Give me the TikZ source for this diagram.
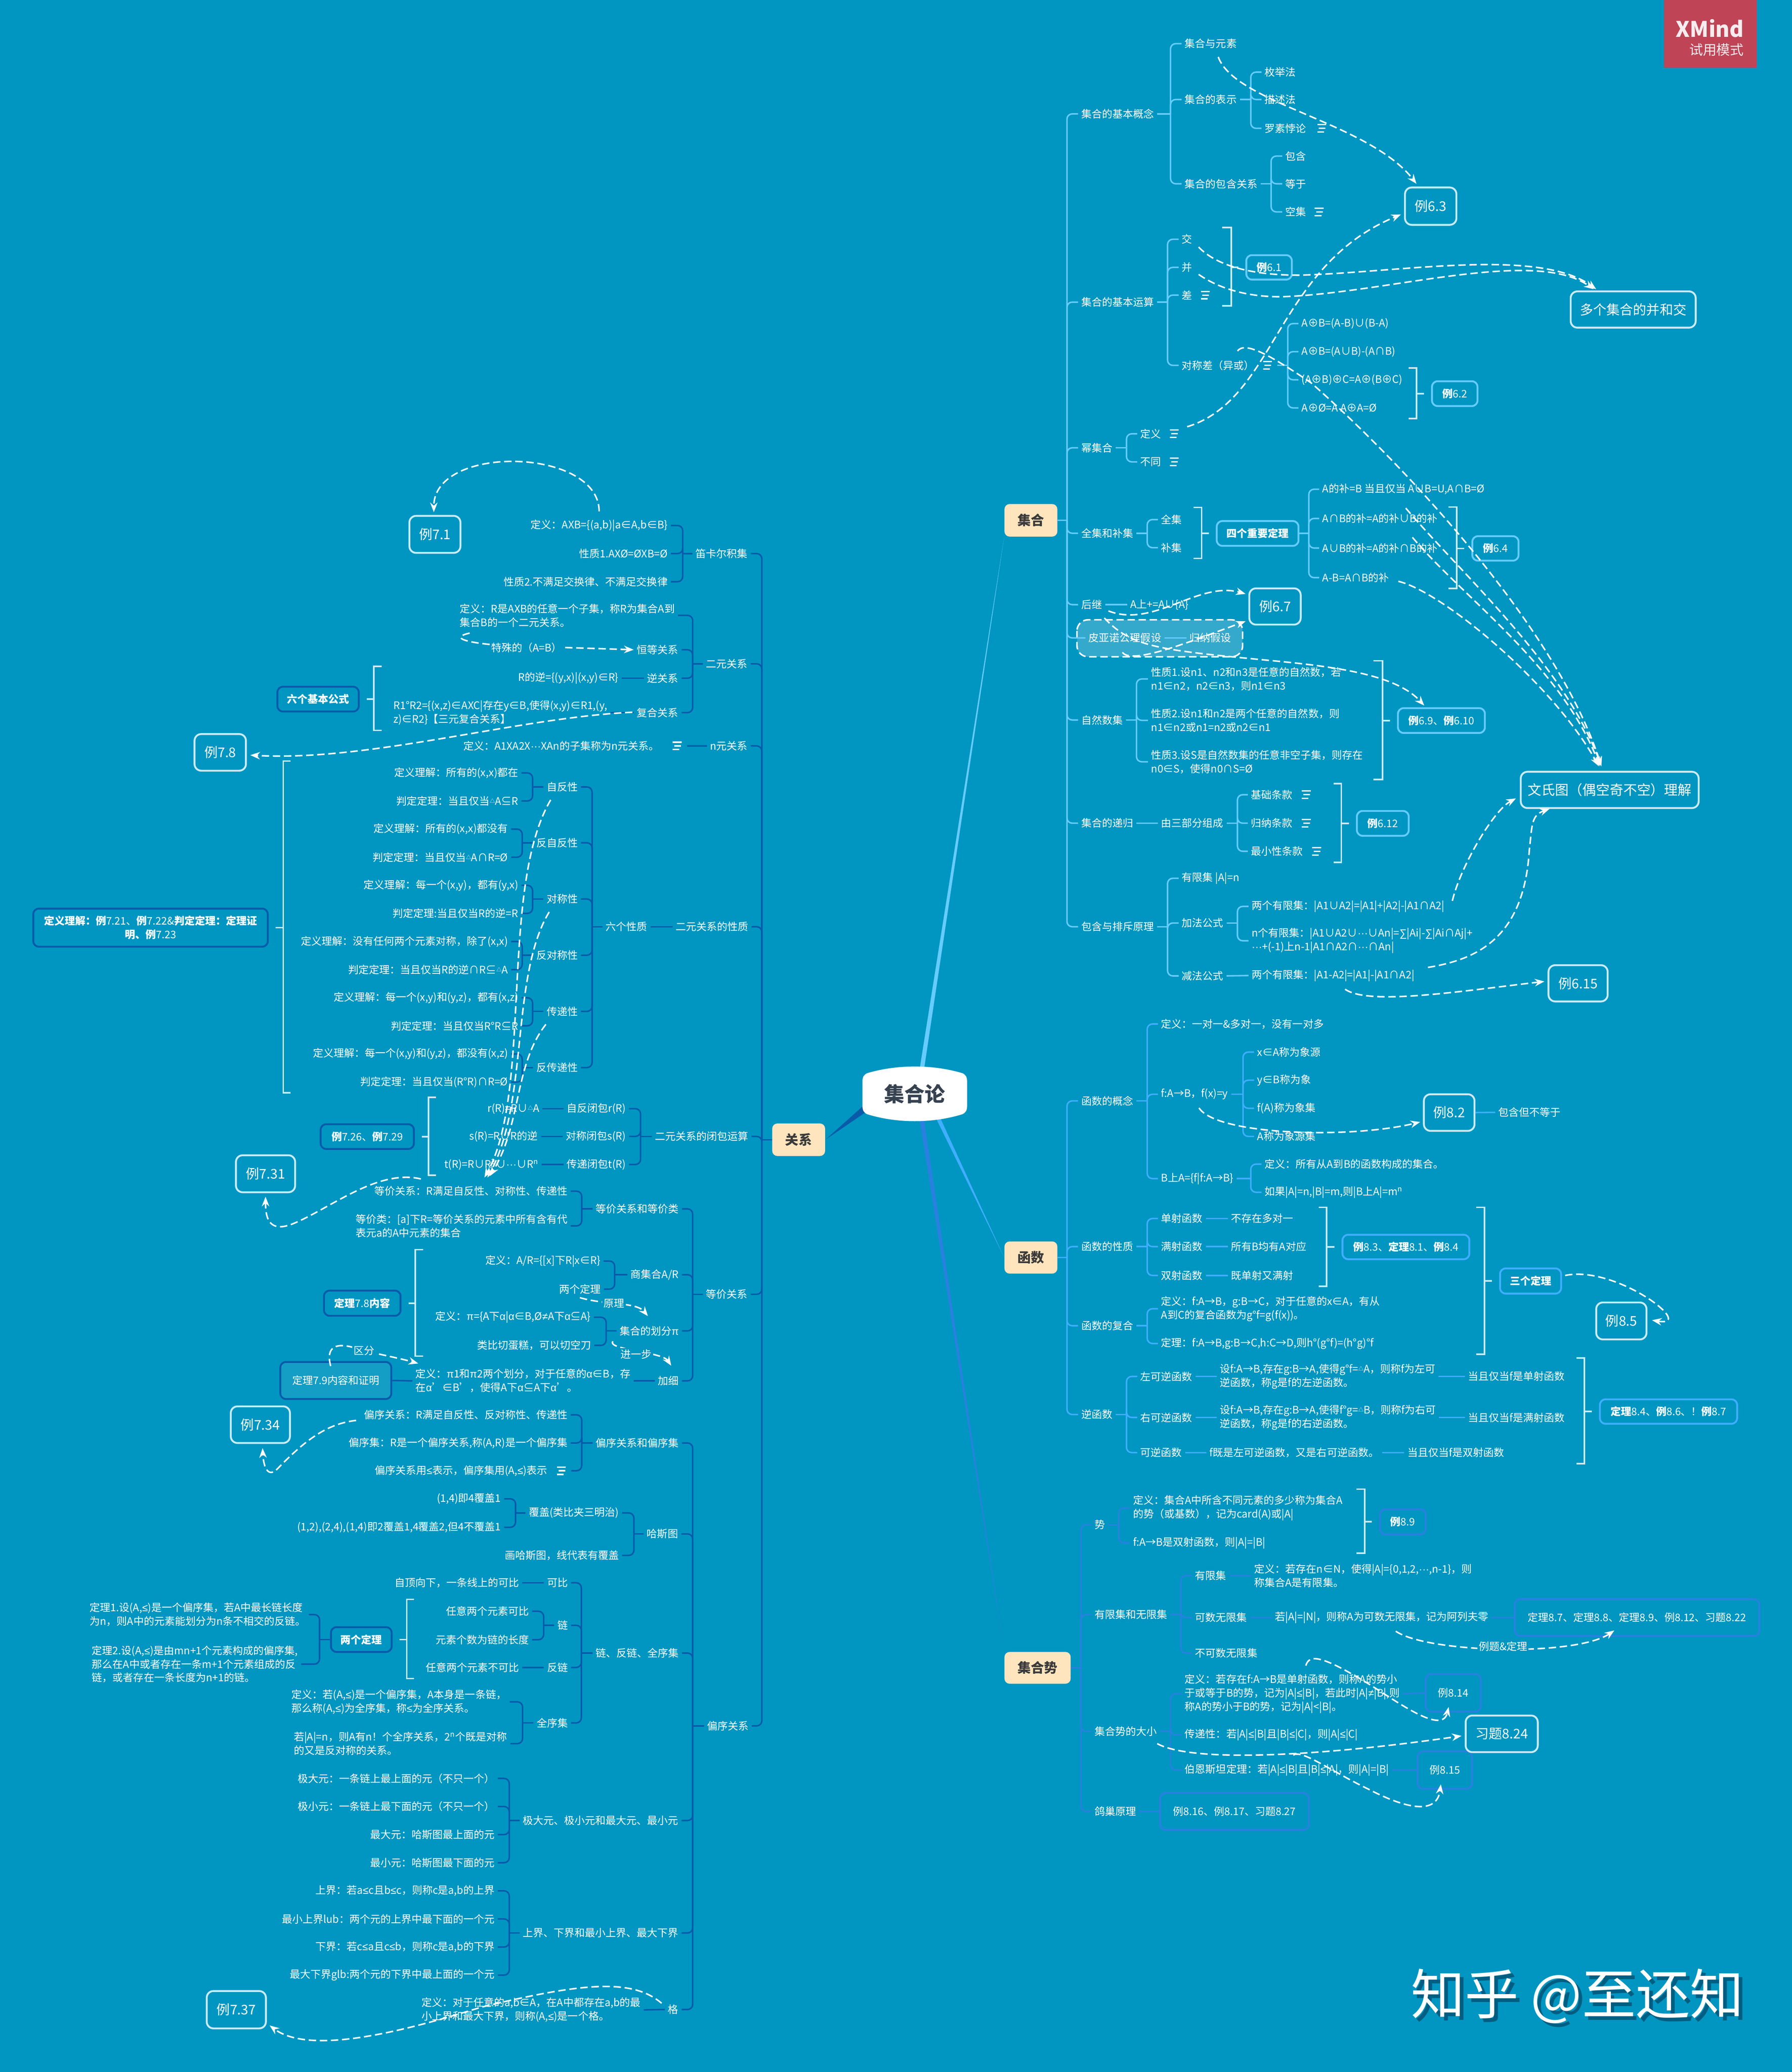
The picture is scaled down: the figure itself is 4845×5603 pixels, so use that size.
\documentclass[tikz,border=0pt]{standalone}
\usepackage{fontspec}
\setmainfont{Noto Sans CJK SC}
\newfontfamily\lat{Liberation Sans}
\usetikzlibrary{arrows.meta,calc}
\definecolor{bgc}{HTML}{0096C1}
\definecolor{cJ}{HTML}{66CCFF}
\definecolor{cF}{HTML}{40AEFF}
\definecolor{cS}{HTML}{2A80E0}
\definecolor{cG}{HTML}{0A5AAA}
\definecolor{brk}{HTML}{CBEBF6}
\definecolor{topicf}{HTML}{FFE5BE}
\definecolor{topict}{HTML}{3A3A3A}
\definecolor{mainT}{HTML}{374250}
\definecolor{badge}{HTML}{BE4456}
\definecolor{shade}{HTML}{005E82}
\definecolor{peano}{HTML}{35A9CC}
\newcommand\normalT{\fontsize{7.97}{10.5}\selectfont}
\newcommand\bigT{\fontsize{10.24}{13}\selectfont}
\newcommand\B[1]{{\bfseries #1}}
\newcommand\tri{\raisebox{0.35ex}{\fontsize{4}{4}\selectfont △}}
\newcommand\dd{{\lat ···}}
\newcommand\LE{{\lat ≤}}
\newcommand\NEQ{{\lat ≠}}
\newcommand\SUMM{{\lat ∑}}
\newcommand\ALF{{\lat α}}
\newcommand\PIE{{\lat π}}
\newcommand\nr[4]{\node[txt,anchor=west] (#1) at ({#2-8},#3) {#4};}
\newcommand\nl[4]{\node[txt,anchor=east] (#1) at ({#2+8},#3) {#4};}
\newcommand\bx[7]{\node[#6,minimum width={(#3-#2)*0.01cm},minimum height={(#5-#4)*0.01cm},inner sep=0pt] (#1) at ({(#2+#3)/2},{(#4+#5)/2}) {#7};}
\newcommand\bR[3]{\coordinate (T) at (#2,0);\draw[ln] (#1.east) -- (#1.east -| T);
  \foreach \c in {#3}{\draw[ln,rounded corners=0.14cm] (#1.east -| T) -- (\c.west -| T) -- (\c.west);}}
\newcommand\bL[3]{\coordinate (T) at (#2,0);\draw[ln] (#1.west) -- (#1.west -| T);
  \foreach \c in {#3}{\draw[ln,rounded corners=0.14cm] (#1.west -| T) -- (\c.east -| T) -- (\c.east);}}
\newcommand\lR[2]{\draw[ln] (#1.east) -- (#2.west);}
\newcommand\lL[2]{\draw[ln] (#1.west) -- (#2.east);}
\newcommand\kR[5]{\draw[brkl] (#4,#2) -- (#1,#2) -- (#1,#3) -- (#4,#3);\coordinate (K) at (#1,0);\draw[brkl,shorten >=0.19cm] (#5.west -| K) -- (#5.west);}
\newcommand\kL[5]{\draw[brkl] (#4,#2) -- (#1,#2) -- (#1,#3) -- (#4,#3);\coordinate (K) at (#1,0);\draw[brkl,shorten >=0.19cm] (#5.east -| K) -- (#5.east);}
\newcommand\icon[3]{\node[minimum width=0.52cm,minimum height=0.3cm,inner sep=0pt] (#1) at (#2,#3) {};
  \draw[iconl] ({#2-12},{#3-10}) -- ({#2+12},{#3-10});\draw[iconl] ({#2-8},{#3}) -- ({#2+10},{#3});\draw[iconl] ({#2-12},{#3+10}) -- ({#2+6},{#3+10});}
\newcommand\relc[4]{\coordinate (#1a) at (#2);\coordinate (#1b) at (#4);\draw[rel] (#1a) #3 (#1b);}
\tikzset{
  txt/.style={font=\normalT,text=white,inner ysep=0pt,inner xsep=0.08cm,align=left},
  ln/.style={line width=0.04cm,draw=cJ},
  brkl/.style={line width=0.04cm,draw=brk},
  iconl/.style={line width=0.035cm,draw=white},
  rel/.style={line width=0.04cm,draw=white,dash pattern=on 0.2cm off 0.1cm,-{Stealth[length=0.26cm,width=0.2cm]}},
  relp/.style={line width=0.04cm,draw=white,dash pattern=on 0.2cm off 0.1cm},
  bigb/.style={draw=brk,line width=0.05cm,rounded corners=0.18cm,font=\bigT,text=white,align=center},
  smallb/.style={line width=0.05cm,rounded corners=0.15cm,font=\normalT,text=white,align=center},
  topic/.style={fill=topicf,rounded corners=0.14cm,font=\bigT\bfseries,text=topict},
  lab/.style={font=\normalT,text=white,fill=bgc,inner sep=1pt}
}
\begin{document}
\begin{tikzpicture}[x=0.01cm,y=-0.01cm]
\useasboundingbox (0,0) rectangle (4845,5603);
\fill[bgc] (0,0) rectangle (4845,5603);
% ---- central topic and its tapered branches
\bx{ji}{2716}{2859}{1363}{1451}{topic}{集合}
\bx{fn}{2716}{2859}{3357}{3444}{topic}{函数}
\bx{shi}{2716}{2895}{4467}{4553}{topic}{集合势}
\bx{ge}{2088}{2231}{3038}{3126}{topic}{关系}
\coordinate (t1a) at (2486,2895);\coordinate (t1b) at (2498,2895);
\coordinate (t2a) at (2529,3020);\coordinate (t2b) at (2541,3020);
\coordinate (t3a) at (2486,3025);\coordinate (t3b) at (2498,3025);
\coordinate (t4a) at (2340,2985);\coordinate (t4b) at (2340,3008);
\fill[cJ] (t1a) -- (ji.south west) -- (t1b) -- cycle;
\fill[cF] (t2a) -- (fn.west) -- (t2b) -- cycle;
\fill[cS] (t3a) -- (shi.north west) -- (t3b) -- cycle;
\fill[cG] (t4a) -- (ge.east) -- (t4b) -- cycle;
\fill[white] (2332,2925) .. controls (2332,2912) and (2336,2906) .. (2345,2902) .. controls (2425,2878) and (2522,2878) .. (2602,2902) .. controls (2611,2906) and (2615,2912) .. (2615,2925) -- (2615,2990) .. controls (2615,3003) and (2611,3009) .. (2602,3013) .. controls (2522,3038) and (2425,3038) .. (2345,3013) .. controls (2336,3009) and (2332,3003) .. (2332,2990) -- cycle;
\node[font=\fontsize{15.6}{18}\selectfont\bfseries,text=mainT,minimum width=2.83cm,minimum height=1.48cm,inner sep=0pt] (main) at (2473,2958) {集合论};
% ---- 集合
\begin{scope}[ln/.style={line width=0.04cm,draw=cJ},smallb/.append style={draw=cJ}]
\nr{a1}{2923}{308}{集合的基本概念}
\nr{a11}{3203}{118}{集合与元素}
\nr{a12}{3203}{269}{集合的表示}
\nr{a13}{3203}{497}{集合的包含关系}
\nr{a121}{3419}{195}{枚举法}
\nr{a122}{3419}{269}{描述法}
\nr{a123}{3419}{347}{罗素悖论}
\icon{ia123}{3574}{347}
\nr{a131}{3475}{422}{包含}
\nr{a132}{3475}{497}{等于}
\nr{a133}{3475}{573}{空集}
\icon{ia133}{3567}{573}
\bR{a1}{3165}{a11,a12,a13}
\bR{a12}{3382}{a121,a122,a123}
\bR{a13}{3437}{a131,a132,a133}
\nr{a2}{2923}{817}{集合的基本运算}
\nr{a21}{3195}{647}{交}
\nr{a22}{3195}{723}{并}
\nr{a23}{3195}{798}{差}
\icon{ia23}{3259}{798}
\nr{a24}{3195}{988}{对称差（异或）}
\icon{ia24}{3427}{988}
\nr{a241}{3519}{875}{A⊕B=(A-B)∪(B-A)}
\nr{a242}{3519}{951}{A⊕B=(A∪B)-(A∩B)}
\nr{a243}{3519}{1027}{(A⊕B)⊕C=A⊕(B⊕C)}
\nr{a244}{3519}{1103}{A⊕Ø=A  A⊕A=Ø}
\bR{a2}{3157}{a21,a22,a23,a24}
\bR{ia24}{3482}{a241,a242,a243,a244}
\nr{a3}{2923}{1211}{幂集合}
\nr{a31}{3083}{1173}{定义}
\icon{ia31}{3175}{1173}
\nr{a32}{3083}{1249}{不同}
\icon{ia32}{3175}{1249}
\bR{a3}{3046}{a31,a32}
\nr{a4}{2923}{1442}{全集和补集}
\nr{a41}{3139}{1405}{全集}
\nr{a42}{3139}{1481}{补集}
\bR{a4}{3102}{a41,a42}
\bx{b4}{3290}{3511}{1409}{1476}{smallb}{\B{四个重要定理}}
\nr{a431}{3575}{1323}{A的补=B 当且仅当 A∪B=U,A∩B=Ø}
\nr{a432}{3575}{1402}{A∩B的补=A的补∪B的补}
\nr{a433}{3575}{1482}{A∪B的补=A的补∩B的补}
\nr{a434}{3575}{1562}{A-B=A∩B的补}
\bR{b4}{3539}{a431,a432,a433,a434}
\nr{a5}{2923}{1635}{后继}
\nr{a51}{3056}{1635}{A上+=A∪\{A\}}
\lR{a5}{a51}
\draw[draw=white,fill=peano,line width=0.04cm,dash pattern=on 0.2cm off 0.1cm,rounded corners=0.3cm] (2912,1676) rectangle (3360,1776);
\nr{a6}{2943}{1725}{皮亚诺公理假设}
\nr{a61}{3216}{1725}{归纳假设}
\lR{a6}{a61}
\nr{a7}{2923}{1947}{自然数集}
\nr{a71}{3112}{1836}{性质1.设n1、n2和n3是任意的自然数，若\\n1∈n2，n2∈n3，则n1∈n3}
\nr{a72}{3112}{1948}{性质2.设n1和n2是两个任意的自然数，则\\n1∈n2或n1=n2或n2∈n1}
\nr{a73}{3112}{2060}{性质3.设S是自然数集的任意非空子集，则存在\\n0∈S，使得n0∩S=Ø}
\bR{a7}{3073}{a71,a72,a73}
\nr{a8}{2923}{2226}{集合的递归}
\nr{a81}{3139}{2226}{由三部分组成}
\lR{a8}{a81}
\nr{a811}{3382}{2149}{基础条款}
\icon{ia811}{3532}{2149}
\nr{a812}{3382}{2226}{归纳条款}
\icon{ia812}{3532}{2226}
\nr{a813}{3382}{2302}{最小性条款}
\icon{ia813}{3560}{2302}
\bR{a81}{3346}{a811,a812,a813}
\nr{a9}{2923}{2506}{包含与排斥原理}
\nr{a91}{3195}{2375}{有限集 |A|=n}
\nr{a92}{3195}{2496}{加法公式}
\nr{a93}{3195}{2639}{减法公式}
\bR{a9}{3157}{a91,a92,a93}
\nr{a921}{3384}{2451}{两个有限集：|A1∪A2|=|A1|+|A2|-|A1∩A2|}
\nr{a922}{3384}{2544}{n个有限集：|A1∪A2∪\dd∪An|=\SUMM|Ai|-\SUMM|Ai∩Aj|+\\\dd+(-1)上n-1|A1∩A2∩\dd∩An|}
\bR{a92}{3346}{a921,a922}
\nr{a931}{3384}{2638}{两个有限集：|A1-A2|=|A1|-|A1∩A2|}
\lR{a93}{a931}
\bR{ji}{2885}{a1,a2,a3,a4,a5,a6,a7,a8,a9}
\bx{b61}{3370}{3493}{690}{756}{smallb}{\B{例}6.1}
\bx{b62}{3872}{3995}{1031}{1098}{smallb}{\B{例}6.2}
\bx{b64}{3981}{4106}{1450}{1516}{smallb}{\B{例}6.4}
\bx{b69}{3780}{4015}{1915}{1982}{smallb}{\B{例}6.9、\B{例}6.10}
\bx{b612}{3669}{3809}{2193}{2260}{smallb}{\B{例}6.12}
\kR{3329}{615}{827}{3305}{b61}
\kR{3830}{995}{1132}{3809}{b62}
\kR{3249}{1372}{1510}{3227}{b4}
\kR{3939}{1371}{1591}{3917}{b64}
\kR{3738}{1787}{2108}{3714}{b69}
\kR{3627}{2119}{2332}{3606}{b612}
\bx{ex63}{3799}{3938}{507}{608}{bigb}{例6.3}
\bx{exm}{4247}{4585}{788}{886}{bigb}{多个集合的并和交}
\bx{ex67}{3378}{3517}{1591}{1689}{bigb}{例6.7}
\bx{exv}{4112}{4593}{2087}{2185}{bigb,font=\fontsize{10.5}{13}\selectfont}{文氏图（偶空奇不空）理解}
\bx{ex615}{4187}{4347}{2610}{2708}{bigb}{例6.15}
\end{scope}
% ---- 函数
\begin{scope}[ln/.style={line width=0.04cm,draw=cF},smallb/.append style={draw=cF}]
\nr{f1}{2923}{2977}{函数的概念}
\nr{f11}{3139}{2769}{定义：一对一\&多对一，没有一对多}
\nr{f12}{3139}{2959}{f:A→B，f(x)=y}
\nr{f13}{3139}{3187}{B上A=\{f|f:A→B\}}
\bR{f1}{3102}{f11,f12,f13}
\nr{f121}{3399}{2845}{x∈A称为象源}
\nr{f122}{3399}{2921}{y∈B称为象}
\nr{f123}{3399}{2997}{f(A)称为象集}
\nr{f124}{3399}{3073}{A称为象源集}
\bR{f12}{3361}{f121,f122,f123,f124}
\nr{f131}{3419}{3148}{定义：所有从A到B的函数构成的集合。}
\nr{f132}{3419}{3224}{如果|A|=n,|B|=m,则|B上A|=m\textsuperscript{n}}
\bR{f13}{3382}{f131,f132}
\bx{ex82}{3850}{3987}{2959}{3058}{bigb}{例8.2}
\nr{f83}{4051}{3008}{包含但不等于}
\lR{ex82}{f83}
\nr{f2}{2923}{3371}{函数的性质}
\nr{f21}{3139}{3295}{单射函数}
\nr{f22}{3139}{3371}{满射函数}
\nr{f23}{3139}{3449}{双射函数}
\bR{f2}{3102}{f21,f22,f23}
\nr{f211}{3328}{3295}{不存在多对一}
\nr{f221}{3328}{3371}{所有B均有A对应}
\nr{f231}{3328}{3449}{既单射又满射}
\lR{f21}{f211}\lR{f22}{f221}\lR{f23}{f231}
\nr{f3}{2923}{3585}{函数的复合}
\nr{f31}{3139}{3539}{定义：f:A→B，g:B→C，对于任意的x∈A，有从\\A到C的复合函数为g°f=g(f(x))。}
\nr{f32}{3139}{3633}{定理：f:A→B,g:B→C,h:C→D,则h°(g°f)=(h°g)°f}
\bR{f3}{3102}{f31,f32}
\nr{f4}{2923}{3825}{逆函数}
\nr{f41}{3083}{3722}{左可逆函数}
\nr{f42}{3083}{3833}{右可逆函数}
\nr{f43}{3083}{3928}{可逆函数}
\bR{f4}{3046}{f41,f42,f43}
\nr{f411}{3298}{3722}{设f:A→B,存在g:B→A,使得g°f=\tri A，则称f为左可\\逆函数，称g是f的左逆函数。}
\nr{f421}{3298}{3833}{设f:A→B,存在g:B→A,使得f°g=\tri B，则称f为右可\\逆函数，称g是f的右逆函数。}
\nr{f431}{3270}{3928}{f既是左可逆函数，又是右可逆函数。}
\nr{f412}{3969}{3722}{当且仅当f是单射函数}
\nr{f422}{3969}{3833}{当且仅当f是满射函数}
\nr{f432}{3805}{3928}{当且仅当f是双射函数}
\lR{f41}{f411}\lR{f42}{f421}\lR{f43}{f431}\lR{f411}{f412}\lR{f421}{f422}\lR{f431}{f432}
\bR{fn}{2885}{f1,f2,f3,f4}
\bx{b83}{3630}{3973}{3339}{3405}{smallb}{\B{例}8.3、\B{定理}8.1、\B{例}8.4}
\bx{b3d}{4056}{4221}{3430}{3498}{smallb}{\B{三个定理}}
\bx{b84}{4326}{4697}{3784}{3850}{smallb}{\B{定理}8.4、\B{例}8.6、！\B{例}8.7}
\kR{3587}{3265}{3478}{3566}{b83}
\kR{4014}{3265}{3662}{3991}{b3d}
\kR{4284}{3672}{3958}{4263}{b84}
\bx{ex85}{4316}{4452}{3522}{3622}{bigb}{例8.5}
\end{scope}
% ---- 集合势
\begin{scope}[ln/.style={line width=0.04cm,draw=cS},smallb/.append style={draw=cS}]
\nr{s1}{2959}{4123}{势}
\nr{s11}{3063}{4078}{定义：集合A中所含不同元素的多少称为集合A\\的势（或基数），记为card(A)或|A|}
\nr{s12}{3063}{4172}{f:A→B是双射函数，则|A|=|B|}
\bR{s1}{3025}{s11,s12}
\bx{b89}{3731}{3855}{4081}{4149}{smallb}{\B{例}8.9}
\kR{3690}{4027}{4200}{3668}{b89}
\nr{s2}{2959}{4366}{有限集和无限集}
\nr{s21}{3231}{4260}{有限集}
\nr{s22}{3231}{4374}{可数无限集}
\nr{s23}{3231}{4470}{不可数无限集}
\bR{s2}{3193}{s21,s22,s23}
\nr{s211}{3391}{4261}{定义：若存在n∈N，使得|A|=\{0,1,2,\dd,n-1\}，则\\称集合A是有限集。}
\nr{s221}{3447}{4374}{若|A|=|N|，则称A为可数无限集，记为阿列夫零}
\bx{b222}{4096}{4757}{4324}{4424}{smallb}{定理8.7、定理8.8、定理8.9、例8.12、习题8.22}
\lR{s21}{s211}\lR{s22}{s221}\lR{s221}{b222}
\nr{s3}{2959}{4682}{集合势的大小}
\nr{s31}{3203}{4580}{定义：若存在f:A→B是单射函数，则称A的势小\\于或等于B的势，记为|A|\LE{}|B|，若此时|A|\NEQ{}|B|,则\\称A的势小于B的势，记为|A|<|B|。}
\nr{s32}{3203}{4691}{传递性：若|A|\LE{}|B|且|B|\LE{}|C|，则|A|\LE{}|C|}
\nr{s33}{3203}{4786}{伯恩斯坦定理：若|A|\LE{}|B|且|B|\LE{}|A|，则|A|=|B|}
\bR{s3}{3165}{s31,s32,s33}
\bx{b814}{3855}{4004}{4527}{4628}{smallb}{例8.14}
\bx{b815}{3833}{3980}{4736}{4837}{smallb}{例8.15}
\lR{s31}{b814}\lR{s33}{b815}
\bx{ex824}{3963}{4158}{4639}{4738}{bigb}{习题8.24}
\nr{s4}{2959}{4898}{鸽巢原理}
\bx{b816}{3137}{3539}{4848}{4948}{smallb}{例8.16、例8.17、习题8.27}
\lR{s4}{b816}
\bR{shi}{2923}{s1,s2,s3,s4}
\end{scope}
% ---- 关系
\begin{scope}[ln/.style={line width=0.04cm,draw=cG},smallb/.append style={draw=cG}]
\nl{g1}{2022}{1497}{笛卡尔积集}
\nl{g11}{1806}{1421}{定义：AXB=\{(a,b)|a∈A,b∈B\}}
\nl{g12}{1806}{1497}{性质1.AXØ=ØXB=Ø}
\nl{g13}{1806}{1573}{性质2.不满足交换律、不满足交换律}
\bL{g1}{1846}{g11,g12,g13}
\nl{g2}{2022}{1795}{二元关系}
\nr{g21}{1243}{1664}{定义：R是AXB的任意一个子集，称R为集合A到\\集合B的一个二元关系。}
\nl{g22}{1835}{1757}{恒等关系}
\nl{g23}{1835}{1834}{逆关系}
\nl{g24}{1835}{1927}{复合关系}
\bL{g2}{1873}{g21,g22,g23,g24}
\nl{g231}{1673}{1834}{R的逆=\{(y,x)|(x,y)∈R\}}
\lL{g23}{g231}
\nr{g241}{1063}{1927}{R1°R2=\{(x,z)∈AXC|存在y∈B,使得(x,y)∈R1,(y,\\z)∈R2\}【三元复合关系】}
\lL{g24}{g241}
\bx{b6f}{750}{970}{1857}{1924}{smallb}{\B{六个基本公式}}
\kL{1011}{1802}{1975}{1032}{b6f}
\nl{g3}{2022}{2017}{n元关系}
\icon{ig3}{1831}{2017}
\nl{g31}{1783}{2017}{定义：A1XA2X\dd XAn的子集称为n元关系。}
\lL{g3}{ig3}
\nl{g4}{2024}{2506}{二元关系的性质}
\nl{g41}{1751}{2506}{六个性质}
\lL{g4}{g41}
\nl{g411}{1563}{2128}{自反性}
\nl{g412}{1563}{2279}{反自反性}
\nl{g413}{1563}{2431}{对称性}
\nl{g414}{1563}{2583}{反对称性}
\nl{g415}{1563}{2735}{传递性}
\nl{g416}{1563}{2887}{反传递性}
\bL{g41}{1601}{g411,g412,g413,g414,g415,g416}
\nl{p1}{1402}{2090}{定义理解：所有的(x,x)都在}
\nl{p2}{1402}{2166}{判定定理：当且仅当\tri A⊆R}
\bL{g411}{1440}{p1,p2}
\nl{p3}{1374}{2242}{定义理解：所有的(x,x)都没有}
\nl{p4}{1374}{2318}{判定定理：当且仅当\tri A∩R=Ø}
\bL{g412}{1412}{p3,p4}
\nl{p5}{1402}{2394}{定义理解：每一个(x,y)，都有(y,x)}
\nl{p6}{1402}{2470}{判定定理:当且仅当R的逆=R}
\bL{g413}{1440}{p5,p6}
\nl{p7}{1374}{2546}{定义理解：没有任何两个元素对称，除了(x,x)}
\nl{p8}{1374}{2622}{判定定理：当且仅当R的逆∩R⊆\tri A}
\bL{g414}{1412}{p7,p8}
\nl{p9}{1402}{2698}{定义理解：每一个(x,y)和(y,z)，都有(x,z)}
\nl{p10}{1402}{2774}{判定定理：当且仅当R°R⊆R}
\bL{g415}{1440}{p9,p10}
\nl{p11}{1374}{2850}{定义理解：每一个(x,y)和(y,z)，都没有(x,z)}
\nl{p12}{1374}{2926}{判定定理：当且仅当(R°R)∩R=Ø}
\bL{g416}{1412}{p11,p12}
\bx{b721}{90}{724}{2457}{2560}{smallb}{\B{定义理解：例}7.21、\B{例}7.22\&\B{判定定理：定理证}\\\B{明、例}7.23}
\kL{766}{2058}{2955}{786}{b721}
\nl{g5}{2024}{3073}{二元关系的闭包运算}
\nl{g51}{1693}{2998}{自反闭包r(R)}
\nl{g52}{1693}{3073}{对称闭包s(R)}
\nl{g53}{1693}{3149}{传递闭包t(R)}
\bL{g5}{1732}{g51,g52,g53}
\nl{g511}{1459}{2998}{r(R)=R∪\tri A}
\nl{g521}{1455}{3073}{s(R)=R∪R的逆}
\nl{g531}{1457}{3149}{t(R)=R∪R\textsuperscript{2}∪\dd∪R\textsuperscript{n}}
\lL{g51}{g511}\lL{g52}{g521}\lL{g53}{g531}
\bx{b726}{867}{1119}{3040}{3107}{smallb}{\B{例}7.26、\B{例}7.29}
\kL{1159}{2967}{3178}{1179}{b726}
\nl{g6}{2022}{3500}{等价关系}
\nl{g61}{1836}{3269}{等价关系和等价类}
\nl{g62}{1836}{3447}{商集合A/R}
\nl{g63}{1836}{3599}{集合的划分\PIE}
\nl{g64}{1836}{3734}{加细}
\bL{g6}{1873}{g61,g62,g63,g64}
\nl{g611}{1535}{3221}{等价关系：R满足自反性、对称性、传递性}
\nr{g612}{961}{3315}{等价类：[a]下R=等价关系的元素中所有含有代\\表元a的A中元素的集合}
\bL{g61}{1573}{g611,g612}
\nl{g621}{1624}{3410}{定义：A/R=\{[x]下R|x∈R\}}
\nl{g622}{1625}{3486}{两个定理}
\bL{g62}{1662}{g621,g622}
\nl{g631}{1598}{3562}{定义：\PIE=\{A下\ALF|\ALF∈B,Ø\NEQ{}A下\ALF⊆A\}}
\nl{g632}{1599}{3638}{类比切蛋糕，可以切空刀}
\bL{g63}{1639}{g631,g632}
\nr{g641}{1123}{3734}{定义：\PIE1和\PIE2两个划分，对于任意的\ALF∈B，存\\在\ALF'∈B'，使得A下\ALF⊆A下\ALF'。}
\lL{g64}{g641}
\bx{b78}{876}{1083}{3490}{3558}{smallb}{\B{定理}7.8\B{内容}}
\kL{1123}{3379}{3667}{1144}{b78}
\bx{b79}{758}{1058}{3683}{3783}{smallb,fill=bgc!92!white}{定理7.9内容和证明}
\lL{g641}{b79}
\nl{g7}{2025}{4667}{偏序关系}
\nl{g71}{1836}{3902}{偏序关系和偏序集}
\nl{g72}{1834}{4148}{哈斯图}
\nl{g73}{1836}{4470}{链、反链、全序集}
\nl{g74}{1835}{4923}{极大元、极小元和最大元、最小元}
\nl{g75}{1835}{5227}{上界、下界和最小上界、最大下界}
\nl{g76}{1835}{5434}{格}
\bL{g7}{1873}{g71,g72,g73,g74,g75,g76}
\nl{g711}{1535}{3826}{偏序关系：R满足自反性、反对称性、传递性}
\nl{g712}{1535}{3902}{偏序集：R是一个偏序关系,称(A,R)是一个偏序集}
\nl{g713}{1481}{3977}{偏序关系用\LE{}表示，偏序集用(A,\LE{})表示}
\icon{ig713}{1518}{3977}
\bL{g71}{1573}{g711,g712,ig713}
\nl{g721}{1674}{4091}{覆盖(类比夹三明治)}
\nl{g722}{1674}{4206}{画哈斯图，线代表有覆盖}
\bL{g72}{1714}{g721,g722}
\nl{g7211}{1355}{4053}{(1,4)即4覆盖1}
\nl{g7212}{1355}{4130}{(1,2),(2,4),(1,4)即2覆盖1,4覆盖2,但4不覆盖1}
\bL{g721}{1394}{g7211,g7212}
\nl{g731}{1536}{4280}{可比}
\nl{g732}{1536}{4395}{链}
\nl{g733}{1536}{4509}{反链}
\nl{g734}{1536}{4659}{全序集}
\bL{g73}{1572}{g731,g732,g733,g734}
\nl{g7311}{1404}{4280}{自顶向下，一条线上的可比}
\lL{g731}{g7311}
\nl{g7321}{1431}{4357}{任意两个元素可比}
\nl{g7322}{1431}{4434}{元素个数为链的长度}
\bL{g732}{1470}{g7321,g7322}
\nl{g7331}{1404}{4509}{任意两个元素不可比}
\lL{g733}{g7331}
\nr{g7341}{788}{4602}{定义：若(A,\LE{})是一个偏序集，A本身是一条链，\\那么称(A,\LE{})为全序集，称\LE{}为全序关系。}
\nr{g7342}{794}{4715}{若|A|=n，则A有n！个全序关系，2\textsuperscript{n}个既是对称\\的又是反对称的关系。}
\bL{g734}{1413}{g7341,g7342}
\bx{b2d}{895}{1059}{4400}{4467}{smallb}{\B{两个定理}}
\kL{1100}{4325}{4539}{1119}{b2d}
\nr{t1}{242}{4366}{定理1.设(A,\LE{})是一个偏序集，若A中最长链长度\\为n，则A中的元素能划分为n条不相交的反链。}
\nr{t2}{248}{4500}{定理2.设(A,\LE{})是由mn+1个元素构成的偏序集,\\那么在A中或者存在一条m+1个元素组成的反\\链，或者存在一条长度为n+1的链。}
\bL{b2d}{864}{t1,t2}
\nl{m1}{1338}{4809}{极大元：一条链上最上面的元（不只一个）}
\nl{m2}{1338}{4885}{极小元：一条链上最下面的元（不只一个）}
\nl{m3}{1338}{4961}{最大元：哈斯图最上面的元}
\nl{m4}{1338}{5037}{最小元：哈斯图最下面的元}
\bL{g74}{1377}{m1,m2,m3,m4}
\nl{u1}{1338}{5113}{上界：若a\LE{}c且b\LE{}c，则称c是a,b的上界}
\nl{u2}{1338}{5189}{最小上界lub：两个元的上界中最下面的一个元}
\nl{u3}{1338}{5265}{下界：若c\LE{}a且c\LE{}b，则称c是a,b的下界}
\nl{u4}{1338}{5341}{最大下界glb:两个元的下界中最上面的一个元}
\bL{g75}{1377}{u1,u2,u3,u4}
\nr{g761}{1139}{5435}{定义：对于任意的a,b∈A，在A中都存在a,b的最\\小上界和最大下界，则称(A,\LE{})是一个格。}
\lL{g76}{g761}
\bL{ge}{2060}{g1,g2,g3,g4,g5,g6,g7}
\bx{ex71}{1107}{1245}{1395}{1495}{bigb}{例7.1}
\bx{ex78}{526}{665}{1985}{2084}{bigb}{例7.8}
\bx{ex731}{638}{798}{3124}{3224}{bigb}{例7.31}
\bx{ex734}{624}{784}{3803}{3902}{bigb}{例7.34}
\bx{ex737}{559}{719}{5384}{5485}{bigb}{例7.37}
\end{scope}
% ---- dashed relationships
\relc{d1}{3294,154}{.. controls (3340,280) and (3700,330) ..}{3830,497}
\relc{d2}{3210,1154}{.. controls (3450,1080) and (3450,720) ..}{3788,580}
\relc{d3}{3241,668}{.. controls (3300,730) and (3420,745) .. (3518,744) .. controls (3800,735) and (4160,670) ..}{4316,782}
\relc{d4}{3241,742}{.. controls (3310,790) and (3400,805) .. (3476,802) .. controls (3760,790) and (4150,670) ..}{4309,782}
\relc{d5}{3346,949}{.. controls (3365,925) and (3420,950) .. (3546,1036) .. controls (3800,1260) and (4210,1700) ..}{4330,2072}
\relc{d6}{3801,1374}{.. controls (3960,1560) and (4230,1800) ..}{4330,2072}
\relc{d7}{3819,1453}{.. controls (3960,1620) and (4220,1800) ..}{4326,2072}
\relc{d8}{3781,1572}{.. controls (3900,1600) and (4200,1850) ..}{4323,2072}
\relc{d9}{2997,1652}{.. controls (3120,1700) and (3240,1570) ..}{3368,1606}
\relc{d10}{3035,1764}{.. controls (3060,1800) and (3230,1730) ..}{3368,1680}
\relc{d11}{2986,1671}{.. controls (3060,1750) and (3130,1757) .. (3434,1786) .. controls (3640,1805) and (3780,1830) ..}{3851,1908}
\relc{d12}{3927,2436}{.. controls (3950,2340) and (4040,2190) ..}{4099,2159}
\relc{d13}{3861,2616}{.. controls (3990,2595) and (4120,2540) .. (4135,2300) .. controls (4143,2230) and (4140,2205) ..}{4190,2187}
\relc{d14}{3637,2675}{.. controls (3700,2720) and (3950,2680) ..}{4176,2654}
\relc{d15}{3242,2996}{.. controls (3290,3070) and (3650,3080) ..}{3840,3034}
\relc{d16}{4232,3449}{.. controls (4370,3420) and (4590,3590) ..}{4467,3570}
\relc{d17}{3774,4411}{.. controls (3860,4470) and (4260,4480) ..}{4365,4409}
\node[lab] (l17) at (4064,4452) {例题\&定理};
\relc{d18}{3531,4504}{.. controls (3540,4470) and (3580,4480) .. (3700,4553) .. controls (3790,4610) and (3900,4690) ..}{3917,4616}
\relc{d19}{3129,4715}{.. controls (3230,4770) and (3600,4745) ..}{3952,4694}
\relc{d20}{3497,4746}{.. controls (3520,4730) and (3600,4790) .. (3700,4838) .. controls (3800,4890) and (3885,4910) ..}{3896,4825}
\relc{d21}{1620,1383}{.. controls (1620,1210) and (1173,1200) ..}{1173,1385}
\coordinate (d22a) at (1270,1712);\coordinate (d22m) at (1338,1744);
\draw[relp] (d22a) .. controls (1225,1722) and (1240,1735) .. (d22m);
\nl{g22l}{1520}{1751}{特殊的（A=B）}
\draw[rel] (g22l.east) -- (g22.west);
\relc{d23}{1710,1926}{.. controls (1400,1940) and (1000,2060) ..}{677,2042}
\relc{d24}{1489,2163}{.. controls (1350,2400) and (1440,2950) ..}{1310,3184}
\relc{d25}{1485,2466}{.. controls (1380,2640) and (1430,2980) ..}{1318,3184}
\relc{d26}{1476,2770}{.. controls (1390,2880) and (1410,3040) ..}{1325,3180}
\relc{d27}{1138,3188}{.. controls (1020,3160) and (890,3270) .. (790,3310) .. controls (725,3335) and (718,3290) ..}{718,3236}
\relc{d28}{1568,3509}{.. controls (1640,3530) and (1720,3520) ..}{1752,3559}
\node[lab] (l28) at (1660,3525) {原理};
\relc{d29}{1657,3627}{.. controls (1640,3650) and (1790,3655) ..}{1815,3693}
\node[lab] (l29) at (1720,3662) {进一步};
\relc{d30}{894,3694}{.. controls (880,3640) and (910,3630) .. (960,3645) .. controls (1010,3660) and (1070,3670) ..}{1131,3687}
\node[lab] (l30) at (984,3652) {区分};
\relc{d31}{963,3841}{.. controls (880,3850) and (820,3900) .. (750,3972) .. controls (722,4000) and (712,3960) ..}{710,3916}
\relc{d32}{1789,5417}{.. controls (1710,5350) and (1580,5360) .. (1300,5428) .. controls (1100,5490) and (840,5560) ..}{729,5477}
% ---- badge and watermark
\fill[badge] (4499,0) rectangle (4750,184);
\node[font=\fontsize{16.5}{20}\selectfont\bfseries,text=white!90!badge,anchor=east,inner sep=0pt] (xm) at (4716,77) {XMind};
\node[font=\fontsize{10.5}{12}\selectfont,text=white!90!badge,anchor=east,inner sep=0pt] (xt) at (4716,134) {试用模式};
\node[font=\fontsize{41.5}{46}\selectfont,text=shade,anchor=west,inner sep=0pt] (wm0) at (3824,5408) {知乎 @至还知};
\node[font=\fontsize{41.5}{46}\selectfont,text=white,anchor=west,inner sep=0pt] (wm) at (3814,5398) {知乎 @至还知};
\end{tikzpicture}
\end{document}
